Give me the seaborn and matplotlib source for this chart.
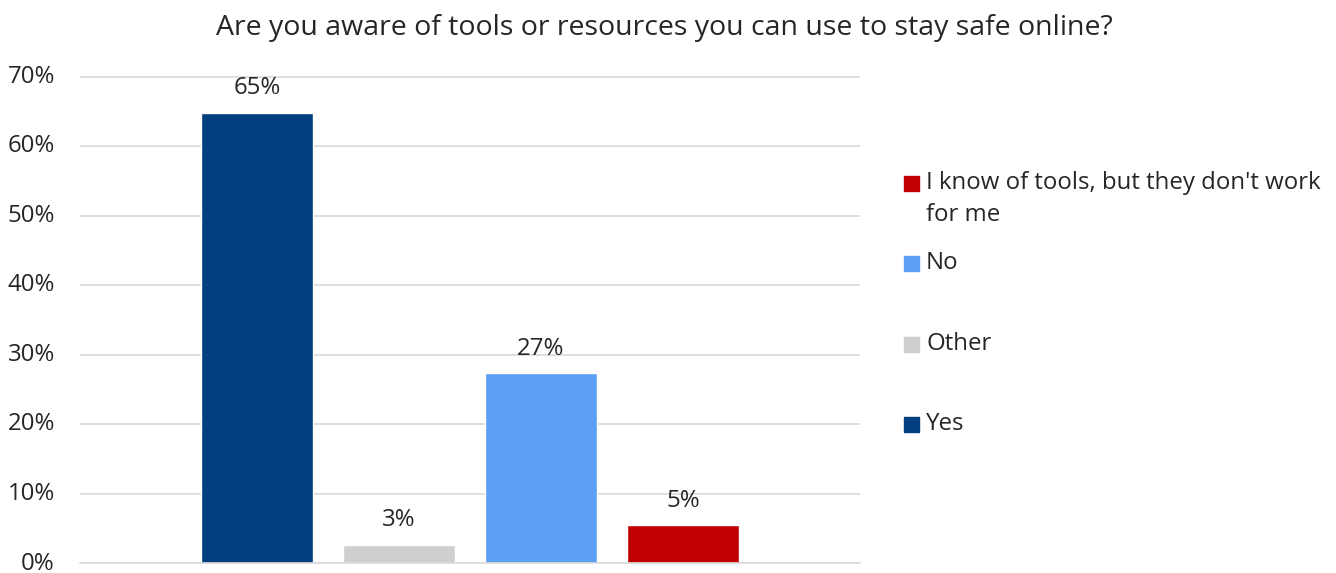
import pandas as pd
import matplotlib
matplotlib.use("Agg")
import matplotlib.pyplot as plt
import matplotlib.transforms as mtransforms
from matplotlib.patches import Rectangle
import seaborn as sns

# Dados
respostas = ["Yes", "Other", "No", "I know of tools, but they don't work for me"]
percentuais = [64.8, 2.6, 27.3, 5.4]
cores = ["#003E7E", "#CFCFCF", "#5C9FF3", "#C00000"]
rotulos_y = ["0%", "10%", "20%", "30%", "40%", "50%", "60%", "70%"]
titulo = "Are you aware of tools or resources you can use to stay safe online?"

sns.set_style("white")
plt.rcParams["font.family"] = ["Open Sans", "DejaVu Sans"]
FS = 17.3
FS_TIT = 20.5

df = pd.DataFrame({"grupo": [""] * len(respostas), "resposta": respostas, "valor": percentuais})

W, H = 1336, 573
fig = plt.figure(figsize=(W / 100, H / 100), dpi=100)
ax = fig.add_axes([80 / W, 1 - 563 / H, 780 / W, (563 - 76.5) / H])

sns.barplot(data=df, x="grupo", y="valor", hue="resposta", hue_order=respostas,
            palette=cores, width=0.728, gap=0.21, legend=False, ax=ax, saturation=1)

for cont in ax.containers:
    ax.bar_label(cont, labels=[f"{v.get_height():.0f}%" for v in cont],
                 padding=9, fontsize=FS, color="#262626")

ax.set_ylim(0, 70)
ax.set_xlim(-0.5, 0.5)
ax.set_yticks(range(0, 71, 10))
ax.set_yticklabels(rotulos_y, fontsize=FS, color="#262626")
ax.set_xticks([])
ax.set_xlabel("")
ax.set_ylabel("")
ax.tick_params(axis="y", length=0, pad=18)
ax.yaxis.grid(True, color="#D9D9D9", linewidth=1.2)
ax.set_axisbelow(True)
for s in ["top", "right", "left"]:
    ax.spines[s].set_visible(False)
ax.spines["bottom"].set_color("#D9D9D9")
ax.spines["bottom"].set_linewidth(1.2)

# sobe um pouco os rótulos do eixo y para o "0%" não ser cortado
desloc = mtransforms.ScaledTranslation(0, 2.5 / 100, fig.dpi_scale_trans)
for lbl in ax.get_yticklabels():
    lbl.set_transform(lbl.get_transform() + desloc)

fig.text(664 / W, 1 - 28 / H, titulo, ha="center", va="center", fontsize=FS_TIT, color="#262626")

# Legenda manual (ordem invertida, como no original)
leg_itens = [(respostas[3], cores[3], 183), (respostas[2], cores[2], 263),
             (respostas[1], cores[1], 344), (respostas[0], cores[0], 424)]
for nome, cor, y in leg_itens:
    fig.patches.append(Rectangle((904 / W, 1 - (y + 7.5) / H), 15 / W, 15 / H,
                                 transform=fig.transFigure, color=cor))
    if nome.startswith("I know"):
        linhas = ["I know of tools, but they don't work", "for me"]
    else:
        linhas = [nome]
    for k, ln in enumerate(linhas):
        fig.text(926 / W, 1 - (y + 32 * k) / H, ln, ha="left", va="center",
                 fontsize=FS, color="#262626")

plt.savefig("out.png", dpi=100)
